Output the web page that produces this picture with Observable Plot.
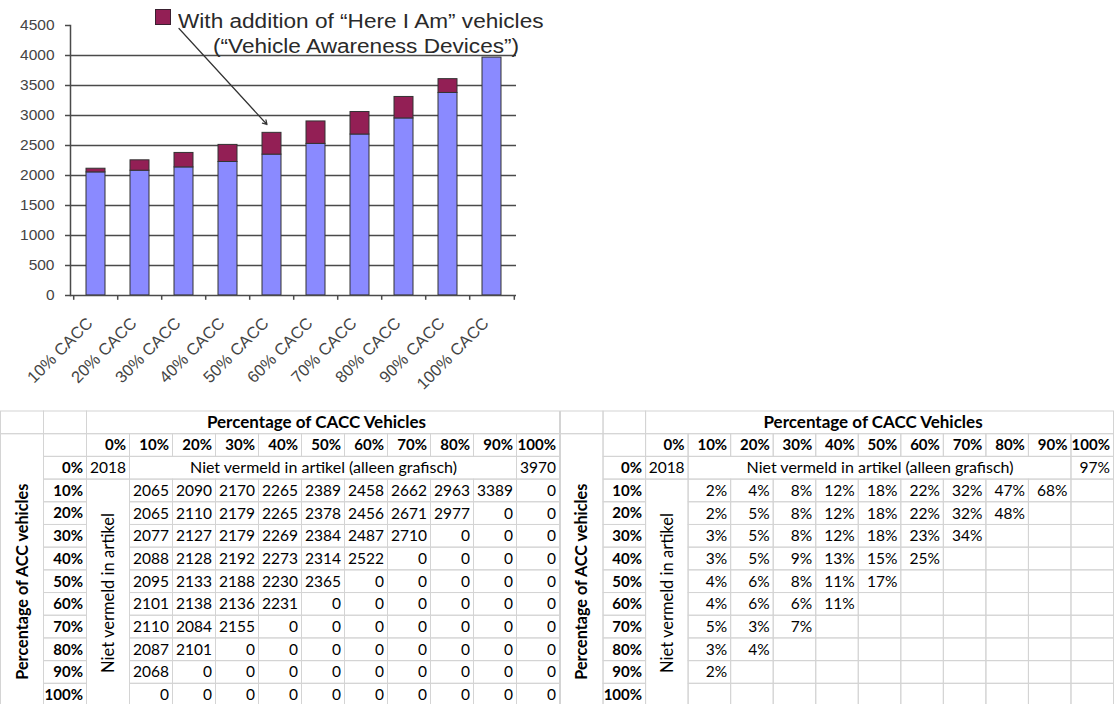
<!DOCTYPE html>
<html><head><meta charset="utf-8">
<script src="https://cdn.jsdelivr.net/npm/d3@7"></script>
<script src="https://cdn.jsdelivr.net/npm/@observablehq/plot@0.6"></script>
<style>
html,body{margin:0;padding:0;background:#fff;width:1114px;height:704px;overflow:hidden;}
#root{position:relative;width:1114px;height:704px;}
#chart{position:absolute;left:0;top:0;}
#t1{position:absolute;left:0;top:405px;}
#t2{position:absolute;left:560px;top:405px;}
#legend{position:absolute;left:0;top:0;width:560px;height:70px;font-family:"Liberation Sans",Arial,sans-serif;color:#2a2a2a;}
#legend .mk{position:absolute;left:155px;top:9px;width:14px;height:14px;background:#931f55;border:1px solid #3a2030;}
#legend .l{position:absolute;font-size:20px;line-height:20px;white-space:nowrap;transform:scaleX(1.13);transform-origin:0 0;}
svg{overflow:visible;}
</style></head><body>
<div id="root">
  <div id="chart"></div>
  <div id="legend"><div class="mk"></div><div class="l" id="lg1" style="left:178px;top:11px"></div><div class="l" id="lg2" style="left:213px;top:36px"></div></div>
  <div id="t1"></div>
  <div id="t2"></div>
</div>
<script>
// ---- bar chart data ----
const categories = ["10% CACC","20% CACC","30% CACC","40% CACC","50% CACC","60% CACC","70% CACC","80% CACC","90% CACC","100% CACC"];
const caccOnly    = [2052, 2080, 2135, 2225, 2348, 2527, 2683, 2951, 3376, 3965];
const withHereIAm = [2113, 2253, 2376, 2510, 2711, 2901, 3058, 3309, 3606, null];
const yTicks = [0, 500, 1000, 1500, 2000, 2500, 3000, 3500, 4000, 4500];
const gridValues = [500, 1000, 1500, 2000, 2500, 3000, 3500, 4000];
const legendLines = ["With addition of \u201CHere I Am\u201D vehicles", "(\u201CVehicle Awareness Devices\u201D)"];
const arrowFrom = {cat: "30% CACC", value: 4450};
const arrowTo = {cat: "50% CACC", value: 2850};

// ---- table data ----
const caccLevels = ["0%","10%","20%","30%","40%","50%","60%","70%","80%","90%","100%"];
const accLevels  = ["0%","10%","20%","30%","40%","50%","60%","70%","80%","90%","100%"];
const tableTitle = "Percentage of CACC Vehicles";
const rowTitle = "Percentage of ACC vehicles";
const notInArticleRow = "Niet vermeld in artikel (alleen grafisch)";
const notInArticleCol = "Niet vermeld in artikel";
const baseline0 = "2018";
const fullCacc = "3970";
const fullCaccPct = "97%";
const throughput = [
  [2065,2090,2170,2265,2389,2458,2662,2963,3389,0],
  [2065,2110,2179,2265,2378,2456,2671,2977,0,0],
  [2077,2127,2179,2269,2384,2487,2710,0,0,0],
  [2088,2128,2192,2273,2314,2522,0,0,0,0],
  [2095,2133,2188,2230,2365,0,0,0,0,0],
  [2101,2138,2136,2231,0,0,0,0,0,0],
  [2110,2084,2155,0,0,0,0,0,0,0],
  [2087,2101,0,0,0,0,0,0,0,0],
  [2068,0,0,0,0,0,0,0,0,0],
  [0,0,0,0,0,0,0,0,0,0]
];
const increasePct = [
  [2,4,8,12,18,22,32,47,68,null],
  [2,5,8,12,18,22,32,48,null,null],
  [3,5,8,12,18,23,34,null,null,null],
  [3,5,9,13,15,25,null,null,null,null],
  [4,6,8,11,17,null,null,null,null,null],
  [4,6,6,11,null,null,null,null,null,null],
  [5,3,7,null,null,null,null,null,null,null],
  [3,4,null,null,null,null,null,null,null,null],
  [2,null,null,null,null,null,null,null,null,null],
  [null,null,null,null,null,null,null,null,null,null]
];

// ---- chart ----
const blue = "#8a8aff", maroon = "#931f55";
const bars = categories.map((c, i) => ({cat: c, base: caccOnly[i], total: withHereIAm[i]}));
const axisFont = "'Liberation Sans', Arial, sans-serif";
const chart = Plot.plot({
  width: 560, height: 400,
  marginLeft: 70, marginRight: 44, marginTop: 25, marginBottom: 105,
  x: {domain: categories, paddingInner: 0.57, paddingOuter: 0.285, axis: null},
  y: {domain: [0, 4500], axis: null},
  style: {fontFamily: axisFont, background: "transparent"},
  marks: [
    Plot.ruleY(gridValues, {stroke: "#4a4a4a", strokeWidth: 1.5}),
    Plot.rectY(bars, {x: "cat", y1: 0, y2: "base", fill: blue, stroke: "#333", strokeWidth: 1}),
    Plot.rectY(bars.filter(d => d.total != null), {x: "cat", y1: "base", y2: "total", fill: maroon, stroke: "#333", strokeWidth: 1}),
    Plot.frame({anchor: "left", stroke: "#4a4a4a", strokeWidth: 1.5}),
    Plot.ruleY([0], {stroke: "#4a4a4a", strokeWidth: 1.5}),
    Plot.axisY({ticks: yTicks, tickSize: 5, tickPadding: 11, fontSize: 15.5, color: "#444", stroke: "#4a4a4a", strokeWidth: 1.5, tickFormat: d => String(d)}),
    Plot.ruleX(categories, {x: d => d, y1: 0, y2: -80, dx: -22.3, stroke: "#4a4a4a", strokeWidth: 1.5}),
    Plot.ruleX(categories.slice(-1), {x: d => d, y1: 0, y2: -80, dx: 22.3, stroke: "#4a4a4a", strokeWidth: 1.5}),
    Plot.text(categories, {x: d => d, y: 0, text: d => d, rotate: -45, textAnchor: "end", dx: -6, dy: 25, fontSize: 16.5, fill: "#444"}),
    Plot.arrow([arrowFrom], {x1: d => d.cat, y1: d => d.value, x2: () => arrowTo.cat, y2: () => arrowTo.value, dx: -5, stroke: "#333", strokeWidth: 1.2, headLength: 6})
  ]
});
document.getElementById("chart").appendChild(chart);
document.getElementById("lg1").textContent = legendLines[0];
document.getElementById("lg2").textContent = legendLines[1];

// ---- tables ----
function makeTable(width, body, fmt, corner100) {
  const blocks = [], normal = [], bold = [];
  blocks.push({c1:0,c2:1,r1:0,r2:1},{c1:1,c2:2,r1:0,r2:1},{c1:2,c2:13,r1:0,r2:1});
  blocks.push({c1:0,c2:1,r1:1,r2:13});
  blocks.push({c1:1,c2:2,r1:1,r2:2});
  caccLevels.forEach((lab, j) => { blocks.push({c1:2+j,c2:3+j,r1:1,r2:2}); bold.push({x:3+j,y:1.5,text:lab}); });
  accLevels.forEach((lab, i) => { blocks.push({c1:1,c2:2,r1:2+i,r2:3+i}); bold.push({x:2,y:2.5+i,text:lab}); });
  blocks.push({c1:2,c2:3,r1:2,r2:3},{c1:3,c2:12,r1:2,r2:3},{c1:12,c2:13,r1:2,r2:3});
  normal.push({x:3,y:2.5,text:baseline0},{x:13,y:2.5,text:corner100});
  blocks.push({c1:2,c2:3,r1:3,r2:13});
  body.forEach((row, i) => row.forEach((v, j) => {
    blocks.push({c1:3+j,c2:4+j,r1:3+i,r2:4+i});
    if (v != null) normal.push({x:4+j,y:3.5+i,text:fmt(v)});
  }));
  const font = "Lato, 'Open Sans', sans-serif";
  return Plot.plot({
    width, height: 301, margin: 0,
    x: {domain: [0, 13], range: [0.5, width - 0.5], axis: null},
    y: {domain: [0, 13], range: [6, 301], axis: null},
    style: {fontFamily: font, background: "transparent"},
    marks: [
      Plot.rect(blocks, {x1: "c1", x2: "c2", y1: "r1", y2: "r2", fill: "none", stroke: "#d4d4d4", strokeWidth: 1}),
      Plot.text(bold, {x: "x", y: "y", text: "text", textAnchor: "end", dx: -4, fontWeight: "bold", fontSize: 15, fill: "#000"}),
      Plot.text(normal, {x: "x", y: "y", text: "text", textAnchor: "end", dx: -4, fontSize: 15.5, fill: "#000"}),
      Plot.text([tableTitle], {x: () => 7.5, y: () => 0.5, text: d => d, dx: -7, fontWeight: "bold", fontSize: 17, fill: "#000"}),
      Plot.text([notInArticleRow], {x: () => 7.5, y: () => 2.5, text: d => d, fontSize: 16, fill: "#000"}),
      Plot.text([rowTitle], {x: () => 0.5, y: () => 7.5, text: d => d, rotate: -90, fontWeight: "bold", fontSize: 16.2, fill: "#000"}),
      Plot.text([notInArticleCol], {x: () => 2.5, y: () => 8, text: d => d, rotate: -90, fontSize: 16.5, fill: "#000"})
    ]
  });
}
document.getElementById("t1").appendChild(makeTable(560, throughput, v => String(v), fullCacc));
document.getElementById("t2").appendChild(makeTable(554, increasePct, v => v + "%", fullCaccPct));
</script>
</body></html>
